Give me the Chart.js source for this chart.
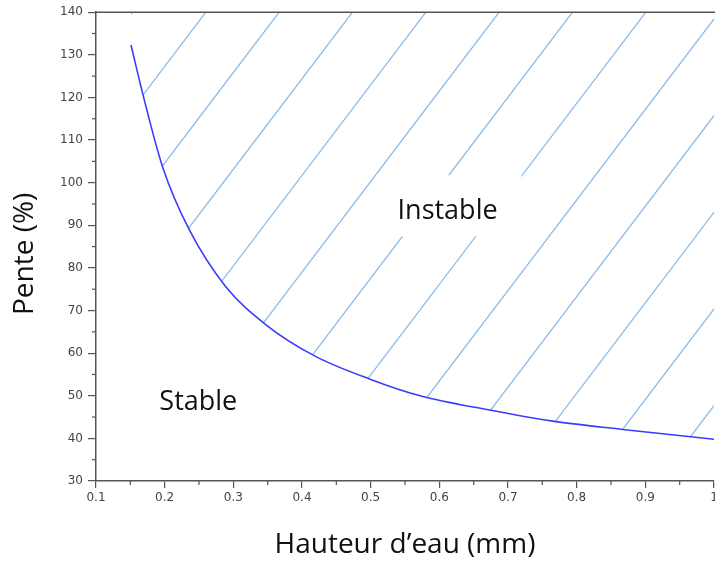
<!DOCTYPE html>
<html>
<head>
    <title>Pente vs Hauteur d'eau</title>
    <script src="https://cdn.jsdelivr.net/npm/chart.js"></script>
    <style>
        body {
            margin: 0;
            overflow: hidden;
            background: #fff;
        }
        canvas {
            display: block;
        }
    </style>
</head>
<body>
    <canvas id="stabilityChart" width="730" height="563"></canvas>

    <script>
        // Boundary curve
        const hauteur = [0.151, 0.168, 0.197, 0.236, 0.289, 0.348, 0.419, 0.499, 0.572, 0.671, 0.763, 0.867, 1.0];
        const pente = [132.3, 120.9, 103.7, 88.9, 75.6, 66.6, 59.3, 53.9, 50.0, 46.7, 44.1, 42.1, 39.8];

        const xTickLabels = ['0.1', '0.2', '0.3', '0.4', '0.5', '0.6', '0.7', '0.8', '0.9', '1'];
        const yTickLabels = ['30', '40', '50', '60', '70', '80', '90', '100', '110', '120', '130', '140'];

        const regionNames = ['Instable', 'Stable'];
        const regionHauteur = [0.612, 0.249];
        const regionPente = [93.3, 48.5];

        const axisColor = '#555';

        // Diagonal hatching used as the fill above the curve
        // (tile holds 3 lines so the spacing can be fractional)
        function hatchPattern() {
            const W = 220, H = 290;
            const s = W / 3;
            const k = W / H;
            const c = 68.4;
            const tile = document.createElement('canvas');
            tile.width = W;
            tile.height = H;
            const g = tile.getContext('2d');
            g.strokeStyle = '#8dbbe6';
            g.lineWidth = 1.3;
            for (let j = -6; j <= 9; j++) {
                const x0 = c + j * s;
                g.beginPath();
                g.moveTo(x0 + k * H, -H);
                g.lineTo(x0 - 2 * k * H, 2 * H);
                g.stroke();
            }
            return g.createPattern(tile, 'repeat');
        }

        // Minor ticks, top border and region labels
        const extrasPlugin = {
            id: 'extras',
            afterDatasetsDraw(chart) {
                const ctx = chart.ctx;
                const x = chart.scales.x;
                const y = chart.scales.y;
                const area = chart.chartArea;

                ctx.save();
                ctx.strokeStyle = axisColor;
                ctx.lineWidth = 1.5;
                ctx.beginPath();
                ctx.moveTo(area.left, area.top);
                ctx.lineTo(area.right + 20, area.top);
                ctx.stroke();

                ctx.lineWidth = 1.2;
                for (let v = 35; v < 140; v += 10) {
                    const py = y.getPixelForValue(v);
                    ctx.beginPath();
                    ctx.moveTo(area.left - 4, py);
                    ctx.lineTo(area.left, py);
                    ctx.stroke();
                }
                for (let i = 0; i < 9; i++) {
                    const px = x.getPixelForValue(0.15 + i * 0.1);
                    ctx.beginPath();
                    ctx.moveTo(px, area.bottom);
                    ctx.lineTo(px, area.bottom + 4);
                    ctx.stroke();
                }

                // white box behind "Instable"
                const ix = x.getPixelForValue(regionHauteur[0]);
                const iy = y.getPixelForValue(regionPente[0]);
                ctx.fillStyle = '#fff';
                ctx.fillRect(ix - 71, iy - 36, 145, 61);

                ctx.fillStyle = '#111';
                ctx.font = '27px "Open Sans"';
                ctx.textAlign = 'center';
                ctx.textBaseline = 'middle';
                for (let i = 0; i < regionNames.length; i++) {
                    ctx.fillText(regionNames[i],
                        x.getPixelForValue(regionHauteur[i]),
                        y.getPixelForValue(regionPente[i]));
                }
                ctx.restore();
            }
        };

        const ctx = document.getElementById('stabilityChart').getContext('2d');
        const stabilityChart = new Chart(ctx, {
            type: 'line',
            data: {
                datasets: [{
                    label: 'Limite',
                    data: hauteur.map((h, i) => ({ x: h, y: pente[i] })),
                    borderColor: '#3c3cff',
                    borderWidth: 1.6,
                    pointRadius: 0,
                    cubicInterpolationMode: 'monotone',
                    fill: 'end',
                    backgroundColor: hatchPattern()
                }]
            },
            options: {
                responsive: false,
                animation: false,
                layout: {
                    padding: { left: 0, top: 12, right: 16, bottom: 0 }
                },
                plugins: {
                    legend: { display: false },
                    tooltip: { enabled: false }
                },
                scales: {
                    x: {
                        type: 'linear',
                        min: 0.1,
                        max: 1.0,
                        afterFit(scale) { scale.height = 82; },
                        border: { color: axisColor, width: 1.5 },
                        grid: {
                            display: true,
                            drawOnChartArea: false,
                            drawTicks: true,
                            tickLength: 7,
                            color: axisColor,
                            lineWidth: 1.2
                        },
                        ticks: {
                            stepSize: 0.1,
                            maxRotation: 0,
                            padding: 3,
                            color: '#444',
                            font: { family: 'DejaVu Sans', size: 12 },
                            callback: (value, index) => xTickLabels[index]
                        },
                        title: {
                            display: true,
                            text: 'Hauteur d\u2019eau (mm)',
                            color: '#111',
                            font: { family: 'Open Sans', size: 28 },
                            padding: { top: 4, bottom: 1 }
                        }
                    },
                    y: {
                        min: 30,
                        max: 140,
                        afterFit(scale) { scale.width = 96; },
                        border: { color: axisColor, width: 1.5 },
                        grid: {
                            display: true,
                            drawOnChartArea: false,
                            drawTicks: true,
                            tickLength: 8,
                            color: axisColor,
                            lineWidth: 1.2
                        },
                        ticks: {
                            stepSize: 10,
                            padding: 5,
                            color: '#444',
                            font: { family: 'DejaVu Sans', size: 12 },
                            callback: (value, index) => yTickLabels[index]
                        },
                        title: {
                            display: true,
                            text: 'Pente (%)  ',
                            color: '#111',
                            font: { family: 'Open Sans', size: 28 },
                            padding: { top: 8, bottom: 0 }
                        }
                    }
                }
            },
            plugins: [extrasPlugin]
        });
    </script>
</body>
</html>
